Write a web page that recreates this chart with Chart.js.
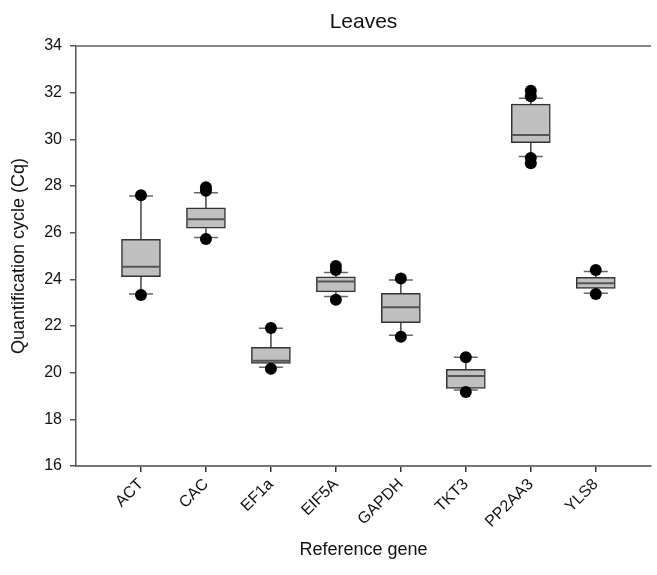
<!DOCTYPE html>
<html>
<head>
<meta charset="utf-8">
<script src="https://cdn.jsdelivr.net/npm/chart.js@4.4.1/dist/chart.umd.min.js"></script>
<style>
html,body{margin:0;padding:0;background:#fff;}
#wrap{width:657px;height:575px;}
</style>
</head>
<body>
<div id="wrap"><canvas id="c" width="657" height="575"></canvas></div>
<script>
const categories = ['ACT','CAC','EF1a','EIF5A','GAPDH','TKT3','PP2AA3','YLS8'];
const whiskerLow  = [23.37, 25.79, 20.23, 23.26, 21.60, 19.26, 29.26, 23.40];
const q1          = [24.11, 26.19, 20.40, 23.46, 22.14, 19.33, 29.86, 23.61];
const median      = [24.54, 26.57, 20.51, 23.91, 22.80, 19.86, 30.19, 23.83];
const q3          = [25.71, 27.06, 21.09, 24.11, 23.40, 20.14, 31.51, 24.09];
const whiskerHigh = [27.57, 27.71, 21.90, 24.29, 23.97, 20.66, 31.76, 24.34];
const outliers = [
  [27.60, 23.33],
  [27.95, 27.80, 25.73],
  [21.91, 20.17],
  [24.57, 24.40, 23.13],
  [24.04, 21.54],
  [20.66, 19.17],
  [32.08, 31.85, 29.20, 28.97],
  [24.40, 23.37]
];
const yTicks = {min: 16, max: 34, step: 2};
const chartTitle = 'Leaves';
const xTitle = 'Reference gene';
const yTitle = 'Quantification cycle (Cq)';

const FONT = "'Liberation Sans', Arial, sans-serif";

const boxData = categories.map((c, i) => ({x: i + 1, y: [q1[i], q3[i]]}));
const outlierData = [];
outliers.forEach((arr, i) => arr.forEach(v => outlierData.push({x: i + 1, y: v})));

const boxPlugin = {
  id: 'boxparts',
  beforeDatasetsDraw(chart) {
    const ctx = chart.ctx, xs = chart.scales.x, ys = chart.scales.y;
    ctx.save();
    categories.forEach((c, i) => {
      const x = xs.getPixelForValue(i + 1);
      ctx.strokeStyle = '#444';
      ctx.lineWidth = 1.5;
      ctx.beginPath();
      ctx.moveTo(x, ys.getPixelForValue(q3[i]));
      ctx.lineTo(x, ys.getPixelForValue(whiskerHigh[i]));
      ctx.moveTo(x, ys.getPixelForValue(q1[i]));
      ctx.lineTo(x, ys.getPixelForValue(whiskerLow[i]));
      ctx.stroke();
      ctx.strokeStyle = '#666';
      ctx.lineWidth = 1.5;
      ctx.beginPath();
      const hi = ys.getPixelForValue(whiskerHigh[i]);
      const lo = ys.getPixelForValue(whiskerLow[i]);
      ctx.moveTo(x - 12, hi); ctx.lineTo(x + 12, hi);
      ctx.moveTo(x - 12, lo); ctx.lineTo(x + 12, lo);
      ctx.stroke();
    });
    ctx.restore();
  },
  afterDatasetDraw(chart, args) {
    if (args.index !== 0) return;
    const ctx = chart.ctx, ys = chart.scales.y;
    const meta = chart.getDatasetMeta(0);
    ctx.save();
    ctx.strokeStyle = '#555';
    ctx.lineWidth = 2;
    meta.data.forEach((bar, i) => {
      const {x, width} = bar.getProps(['x', 'width'], true);
      const y = ys.getPixelForValue(median[i]);
      ctx.beginPath();
      ctx.moveTo(x - width / 2 + 1, y);
      ctx.lineTo(x + width / 2 - 1, y);
      ctx.stroke();
    });
    ctx.restore();
  },
  afterDraw(chart) {
    const ctx = chart.ctx, ca = chart.chartArea;
    ctx.save();
    ctx.strokeStyle = '#888';
    ctx.lineWidth = 2;
    ctx.beginPath();
    ctx.moveTo(ca.left, ca.top);
    ctx.lineTo(ca.right, ca.top);
    ctx.stroke();
    ctx.fillStyle = '#111';
    ctx.font = '21px ' + FONT;
    ctx.textAlign = 'center';
    ctx.textBaseline = 'middle';
    ctx.fillText(chartTitle, (ca.left + ca.right) / 2, 22);
    ctx.restore();
  }
};

new Chart(document.getElementById('c'), {
  data: {
    datasets: [
      {
        type: 'bar',
        data: boxData,
        backgroundColor: '#c0c0c0',
        borderColor: '#333',
        borderWidth: 1.5,
        borderSkipped: false,
        barThickness: 39,
        order: 1
      },
      {
        type: 'scatter',
        data: outlierData,
        pointRadius: 6,
        pointBackgroundColor: '#000',
        pointBorderColor: '#000',
        pointBorderWidth: 0,
        order: 0
      }
    ]
  },
  plugins: [boxPlugin],
  options: {
    responsive: false,
    animation: false,
    layout: {padding: {top: 46, left: 0, right: 0, bottom: 0}},
    plugins: {legend: {display: false}, tooltip: {enabled: false}, title: {display: false}},
    scales: {
      x: {
        type: 'linear',
        offset: false,
        min: 0,
        max: 8.85,
        afterBuildTicks(scale) { scale.ticks = categories.map((c, i) => ({value: i + 1})); },
        afterFit(scale) { scale.height = 109; },
        ticks: {
          autoSkip: false,
          minRotation: 45,
          maxRotation: 45,
          color: '#111',
          font: {family: FONT, size: 16},
          callback: (v) => categories[v - 1]
        },
        grid: {display: true, offset: false, drawOnChartArea: false, drawTicks: true, tickLength: 6, color: '#333', lineWidth: 1.5},
        border: {display: true, color: '#777', width: 2},
        title: {display: true, text: xTitle, color: '#111', font: {family: FONT, size: 18}, padding: {top: 14, bottom: 14}}
      },
      y: {
        min: yTicks.min,
        max: yTicks.max,
        afterFit(scale) { scale.width = 76; },
        ticks: {
          stepSize: yTicks.step,
          color: '#111',
          font: {family: FONT, size: 16},
          padding: 8
        },
        grid: {display: true, drawOnChartArea: false, drawTicks: true, tickLength: 6, color: '#555', lineWidth: 1.5},
        border: {display: true, color: '#555', width: 1.5},
        title: {display: true, text: yTitle, color: '#111', font: {family: FONT, size: 18}, padding: {top: 8, bottom: 4}}
      }
    }
  }
});
</script>
</body>
</html>
